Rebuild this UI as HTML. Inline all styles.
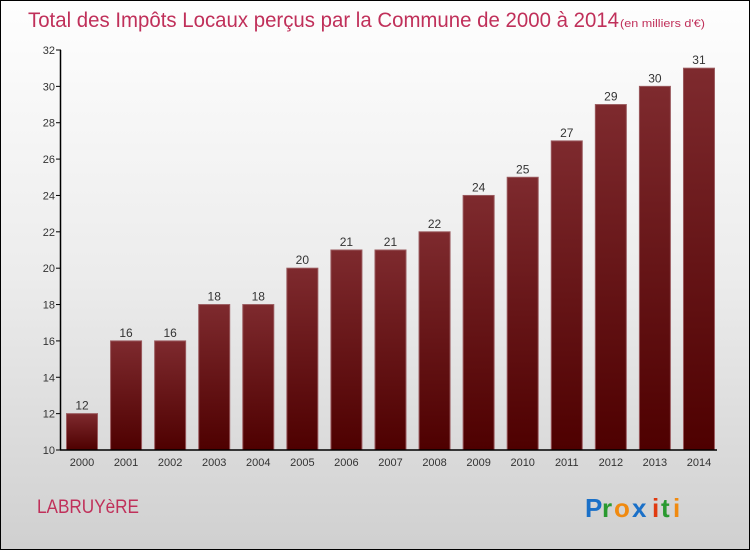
<!DOCTYPE html>
<html><head><meta charset="utf-8"><style>
body{margin:0}
#c{width:748px;height:548px;border:1px solid #000;background:linear-gradient(#fefefe,#ececec 50%,#d0d0d0);position:relative;overflow:hidden;font-family:"Liberation Sans",sans-serif}
</style></head><body>
<div id="c">
<svg id="s" width="748" height="548" xmlns="http://www.w3.org/2000/svg">
<defs><linearGradient id="g" x1="0" y1="0" x2="0" y2="1"><stop offset="0" stop-color="#7e2a2e"/><stop offset="1" stop-color="#4e0000"/></linearGradient></defs>
<text x="27" y="26" font-size="21" fill="#c0305a" textLength="591" lengthAdjust="spacingAndGlyphs">Total des Impôts Locaux perçus par la Commune de 2000 à 2014</text>
<text x="619" y="26" font-size="11" fill="#c0305a" textLength="85" lengthAdjust="spacingAndGlyphs">(en milliers d'€)</text>
<text x="36" y="512" font-size="19" fill="#c0305a" textLength="102" lengthAdjust="spacingAndGlyphs">LABRUYèRE</text>
<g font-size="26" font-weight="bold">
<text x="584" y="516" fill="#1a70c8">P</text><text x="601" y="516" fill="#2a9a30">r</text><text x="613" y="516" fill="#f08a10">o</text><text x="631" y="516" fill="#1a70c8">x</text><text x="651" y="516" fill="#e03a10">i</text><text x="660" y="516" fill="#2a9a30">t</text><text x="672" y="516" fill="#f08a10">i</text></g>
<g id="plot"></g>
</svg>
</div>
<script>
const categories=["2000","2001","2002","2003","2004","2005","2006","2007","2008","2009","2010","2011","2012","2013","2014"];
const values=[12,16,16,18,18,20,21,21,22,24,25,27,29,30,31];
const yTicks=[10,12,14,16,18,20,22,24,26,28,30,32];
const NS="http://www.w3.org/2000/svg";
const p=document.getElementById('plot');
const y0=449,y1=49,ymin=10,ymax=32;
const y=v=>y0-(v-ymin)/(ymax-ymin)*(y0-y1);
const x=i=>81+i*44.07;
function mk(t,a,txt){const e=document.createElementNS(NS,t);for(const k in a)e.setAttribute(k,a[k]);if(txt!=null)e.textContent=txt;p.appendChild(e);return e;}
values.forEach((v,i)=>{
 const r=mk('rect',{x:x(i)-15.5,y:y(v),width:31,height:y0-y(v),fill:'url(#g)',stroke:'#9a5a5e','stroke-width':1});
 
 
 const t=mk('text',{x:x(i),y:y(v)-4,'text-anchor':'middle','font-size':12,fill:'#333'},String(v));
 
 
 const c=mk('text',{x:x(i),y:y0+16,'text-anchor':'middle','font-size':11,fill:'#333'},categories[i]);
 
 
});
yTicks.forEach(v=>{
 const l=mk('line',{x1:55,x2:60,y1:y(v),y2:y(v),stroke:'#000'});
 
 
 const t=mk('text',{x:54,y:y(v)+4,'text-anchor':'end','font-size':11,fill:'#333'},String(v));
 
 
});
const ya=mk('line',{x1:59.5,x2:59.5,y1:y1,y2:y0,stroke:'#000','stroke-width':1.5});


const xa=mk('line',{x1:59,x2:716,y1:y0,y2:y0,stroke:'#000','stroke-width':1.5});


</script>
</body></html>
